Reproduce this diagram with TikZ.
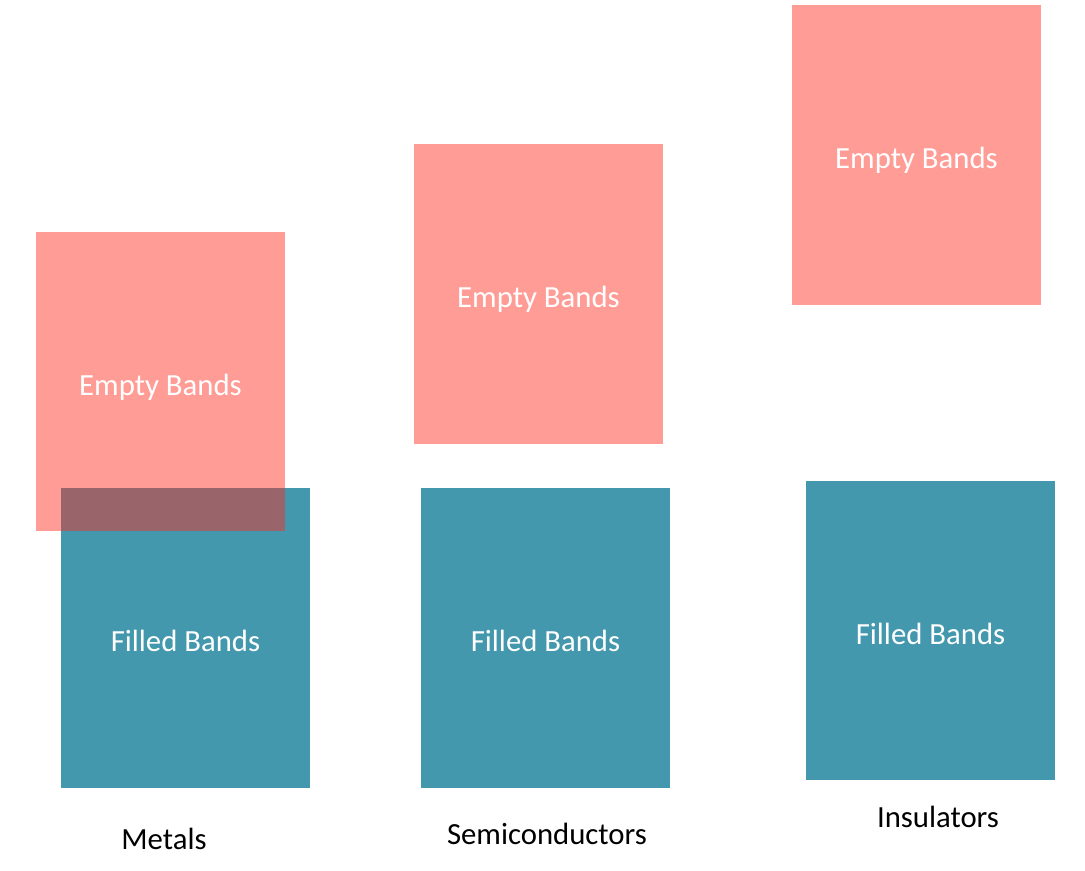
\documentclass[tikz,border=0pt]{standalone}
\usepackage{fontspec}
\setmainfont{Carlito}
\usepackage{tikz}
\usetikzlibrary{positioning}
\definecolor{bandred}{RGB}{255,40,27}
\definecolor{bandteal}{RGB}{67,152,173}
\tikzset{
    emptyband/.style={
        rectangle,
        fill=bandred,
        fill opacity=0.46,
        text opacity=1,
        text=white,
        minimum width=4.98cm,
        minimum height=6cm,
        inner sep=0pt,
        text height=15.6pt,
        text depth=0pt,
        font=\fontsize{17.5}{19}\selectfont
    },
    filledband/.style={
        rectangle,
        fill=bandteal,
        text=white,
        minimum width=4.98cm,
        minimum height=6cm,
        inner sep=0pt,
        text height=15.6pt,
        text depth=0pt,
        font=\fontsize{17.5}{19}\selectfont
    },
    caption/.style={
        text=black,
        font=\fontsize{17.5}{19}\selectfont
    }
}
\begin{document}
\begin{tikzpicture}[x=0.02cm, y=-0.02cm]
    \useasboundingbox (0,0) rectangle (1085,871);

    % metals
    \node[filledband] (metal filled) at (185.5,638) {Filled Bands};
    \node[emptyband] (metal empty) at (160.5,381.5) {Empty Bands};
    \node[caption] (metal label) at (164,839) {Metals};

    % semiconductors
    \node[filledband] (semi filled) at (545.5,638) {Filled Bands};
    \node[emptyband] (semi empty) at (538.5,294) {Empty Bands};
    \node[caption] (semi label) at (547,834) {Semiconductors};

    % insulators
    \node[filledband] (insu filled) at (930.5,630.5) {Filled Bands};
    \node[emptyband] (insu empty) at (916.5,155) {Empty Bands};
    \node[caption] (insu label) at (938,817) {Insulators};
\end{tikzpicture}
\end{document}
